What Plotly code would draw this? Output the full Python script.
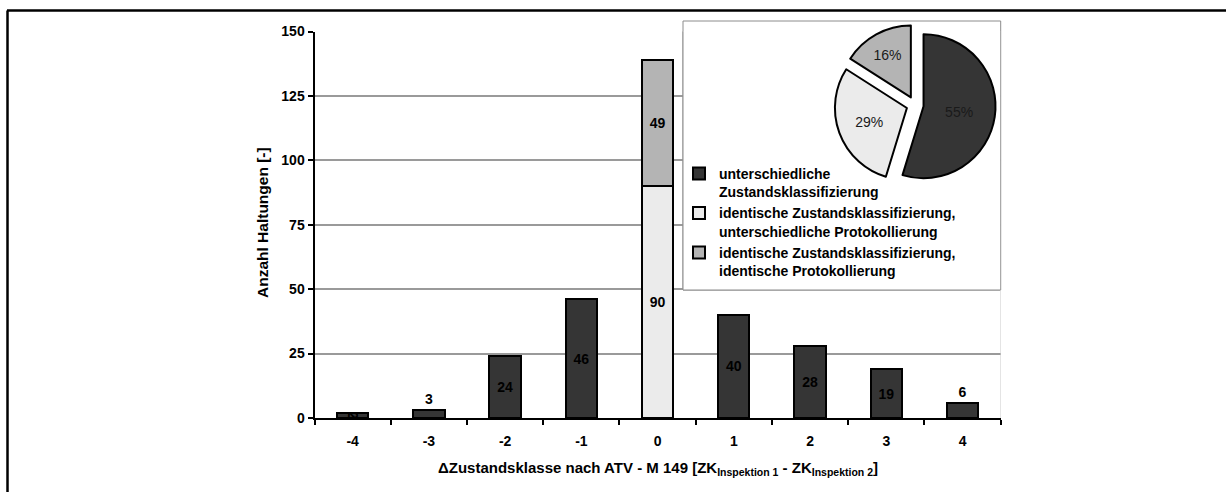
import plotly.graph_objects as go

# ---- data ----
categories = ["-4", "-3", "-2", "-1", "0", "1", "2", "3", "4"]
diff_cats = ["-4", "-3", "-2", "-1", "1", "2", "3", "4"]
diff_class = [2, 3, 24, 46, 40, 28, 19, 6]          # unterschiedliche Zustandsklassifizierung
diff_text_pos = ["inside", "outside", "inside", "inside",
                 "inside", "inside", "inside", "outside"]
same_class_cat = ["0"]
same_class_diff_protocol = [90]   # identische Zustandsklassifizierung, unterschiedliche Protokollierung
same_class_same_protocol = [49]   # identische Zustandsklassifizierung, identische Protokollierung

pie_labels = [
    "unterschiedliche<br>Zustandsklassifizierung",
    "identische Zustandsklassifizierung,<br>unterschiedliche Protokollierung",
    "identische Zustandsklassifizierung,<br>identische Protokollierung",
]
pie_values = [sum(diff_class), sum(same_class_diff_protocol), sum(same_class_same_protocol)]

DARK = "#353535"
LIGHT = "#ebebeb"
GRAY = "#b4b4b4"
FONT = "Liberation Sans, Arial, sans-serif"

W, H = 1226, 492
# pixel geometry of the axes
X0, X1 = 314.5, 1000.7
Y_TOP, Y_BOT = 31.5, 418.0
YMAX = 150.0
N_CAT = len(categories)


def px(x):
    return x / W


def py(y):
    return (H - y) / H


def xdata(x):   # pixel -> category coordinate
    return (x - X0) / (X1 - X0) * N_CAT - 0.5


def ydata(y):   # pixel -> value coordinate
    return (Y_BOT - y) / (Y_BOT - Y_TOP) * YMAX


fig = go.Figure()

bar_font = dict(family=FONT, size=14, color="black", weight="bold")

fig.add_trace(go.Bar(
    x=diff_cats, y=diff_class, marker=dict(color=DARK, line=dict(color="black", width=2)),
    text=[str(v) for v in diff_class],
    textposition=diff_text_pos, insidetextanchor="middle", constraintext="none",
    textfont=bar_font, insidetextfont=bar_font, outsidetextfont=bar_font,
    showlegend=False, cliponaxis=False,
))
fig.add_trace(go.Bar(
    x=same_class_cat, y=same_class_diff_protocol,
    marker=dict(color=LIGHT, line=dict(color="black", width=2)),
    text=[str(v) for v in same_class_diff_protocol], textposition="inside",
    insidetextanchor="middle", constraintext="none", textfont=bar_font,
    showlegend=False,
))
fig.add_trace(go.Bar(
    x=same_class_cat, y=same_class_same_protocol,
    marker=dict(color=GRAY, line=dict(color="black", width=2)),
    text=[str(v) for v in same_class_same_protocol], textposition="inside",
    insidetextanchor="middle", constraintext="none", textfont=bar_font,
    showlegend=False,
))

# pie (inset)
pcx, pcy, half = 915.0, 105.0, 80.6
fig.add_trace(go.Pie(
    labels=pie_labels, values=pie_values, sort=False, direction="clockwise", rotation=0,
    pull=[0.12, 0.12, 0.12],
    marker=dict(colors=[DARK, LIGHT, GRAY], line=dict(color="black", width=2)),
    texttemplate="%{percent:.0%}", textposition="inside",
    textfont=dict(family=FONT, size=14, color="#1a1a1a"),
    insidetextfont=dict(family=FONT, size=14, color="#1a1a1a"),
    insidetextorientation="horizontal",
    domain=dict(x=[px(pcx - half), px(pcx + half)], y=[py(pcy + half), py(pcy - half)]),
    showlegend=True,
))

BOX_L, BOX_R, BOX_T, BOX_B = 683.0, 1000.7, 21.0, 290.0

fig.update_layout(
    width=W, height=H, autosize=False, margin=dict(l=0, r=0, t=0, b=0, pad=0, autoexpand=False),
    paper_bgcolor="white", plot_bgcolor="white",
    barmode="stack", bargap=0.59,
    font=dict(family=FONT, size=14, color="black"),
    xaxis=dict(
        domain=[px(X0), px(X1)], type="category", automargin=False,
        categoryorder="array", categoryarray=categories, range=[-0.5, N_CAT - 0.5],
        showline=True, linecolor="black", linewidth=2,
        ticks="outside", tickson="boundaries", ticklen=5, tickwidth=2, tickcolor="black",
        ticklabelstandoff=9,
        tickfont=dict(family=FONT, size=14, color="black", weight="bold"),
        showgrid=False, zeroline=False, fixedrange=True,
    ),
    yaxis=dict(
        domain=[py(Y_BOT), py(Y_TOP)], range=[0, YMAX], tick0=0, dtick=25, automargin=False,
        showline=True, linecolor="black", linewidth=2,
        ticks="outside", ticklen=5, tickwidth=2, tickcolor="black",
        tickfont=dict(family=FONT, size=14, color="black", weight="bold"),
        showgrid=True, gridcolor="#9a9a9a", gridwidth=1.5, zeroline=False, fixedrange=True,
    ),
    legend=dict(
        x=px(679), y=py(158), xanchor="left", yanchor="top", valign="top",
        bgcolor="rgba(0,0,0,0)", borderwidth=0, traceorder="normal",
        font=dict(family=FONT, size=14, color="black", weight="bold"),
        itemclick=False, itemdoubleclick=False,
    ),
    annotations=[
        dict(text="Anzahl Haltungen [-]", xref="paper", yref="paper",
             x=px(262), y=py(223), textangle=-90, showarrow=False,
             xanchor="center", yanchor="middle",
             font=dict(family=FONT, size=15.5, color="black", weight="bold")),
        dict(text="ΔZustandsklasse nach ATV - M 149 [ZK<sub>Inspektion 1</sub> - ZK<sub>Inspektion 2</sub>]",
             xref="paper", yref="paper", x=px((X0 + X1) / 2), y=py(468), showarrow=False,
             xanchor="center", yanchor="middle",
             font=dict(family=FONT, size=15, color="black", weight="bold")),
    ],
    shapes=[
        # inset box outline (full extent, behind the subplot)
        dict(type="rect", xref="paper", yref="paper", layer="below",
             x0=px(BOX_L), x1=px(BOX_R), y0=py(BOX_B), y1=py(BOX_T),
             fillcolor="white", line=dict(color="#8c8c8c", width=1)),
        # inset box inside the subplot: covers the gridlines, stays below the bars
        dict(type="rect", xref="x", yref="y", layer="between",
             x0=xdata(BOX_L), x1=xdata(BOX_R), y0=ydata(BOX_B), y1=ydata(BOX_T),
             fillcolor="white", line=dict(color="#8c8c8c", width=1)),
        # faint right border of plot area below the box
        dict(type="line", xref="x", yref="y", layer="between",
             x0=xdata(BOX_R), x1=xdata(BOX_R), y0=0, y1=ydata(BOX_B),
             line=dict(color="#cfcfcf", width=1)),
        # outer frame (top and left)
        dict(type="line", xref="paper", yref="paper", x0=px(7), x1=1.0, y0=py(10.5), y1=py(10.5),
             line=dict(color="black", width=2.5), layer="above"),
        dict(type="line", xref="paper", yref="paper", x0=px(7.5), x1=px(7.5), y0=0, y1=py(10.5),
             line=dict(color="black", width=2.5), layer="above"),
    ],
)

fig.write_html("out.html", config={"displayModeBar": False})
